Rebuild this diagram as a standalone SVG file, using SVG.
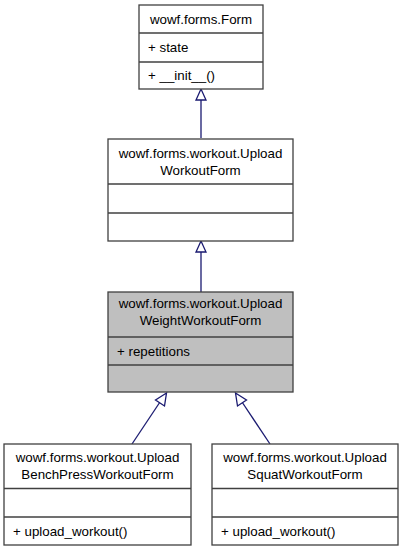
<svg xmlns="http://www.w3.org/2000/svg" width="403" height="552" viewBox="0 0 403 552">
<style>
.box{fill:#ffffff;stroke:#404040;stroke-width:1.3}
.sel{fill:#bfbfbf;stroke:#404040;stroke-width:1.3}
.div{stroke:#404040;stroke-width:1.3}
text{font-family:"Liberation Sans",Arial,sans-serif;font-size:13.33px;fill:#000}
.c{text-anchor:middle}
.edge{stroke:#191970;stroke-width:1.3;fill:none}
.head{stroke:#191970;stroke-width:1.3;fill:#ffffff}
</style>
<rect width="403" height="552" fill="#ffffff"/>
<g id="connectors">
  <path class="edge" d="M201,138 L201,100"/>
  <polygon class="head" points="201,89 196,100 206,100"/>
  <path class="edge" d="M201,292 L201,252"/>
  <polygon class="head" points="201,241 196,252 206,252"/>
  <path class="edge" d="M132,444 L160,402"/>
  <polygon class="head" points="166.5,393 155.5,400 164.5,406"/>
  <path class="edge" d="M270,444 L242,402"/>
  <polygon class="head" points="235.5,393 237.5,406 246.5,400"/>
</g>
<g id="node_form">
  <rect class="box" x="139" y="5" width="124" height="84"/>
  <line class="div" x1="139" y1="33" x2="263" y2="33"/>
  <line class="div" x1="139" y1="62" x2="263" y2="62"/>
  <text class="c" x="201" y="23.5">wowf.forms.Form</text>
  <text x="148" y="51.5">+ state</text>
  <text x="148" y="79.5">+ __init__()</text>
</g>
<g id="node_upload">
  <rect class="box" x="108" y="139" width="185" height="102"/>
  <line class="div" x1="108" y1="184" x2="293" y2="184"/>
  <line class="div" x1="108" y1="213" x2="293" y2="213"/>
  <text class="c" x="200.5" y="157.5">wowf.forms.workout.Upload</text>
  <text class="c" x="200.5" y="174.5">WorkoutForm</text>
</g>
<g id="node_weight">
  <rect class="sel" x="108" y="292" width="185" height="100"/>
  <line class="div" x1="108" y1="337" x2="293" y2="337"/>
  <line class="div" x1="108" y1="365" x2="293" y2="365"/>
  <text class="c" x="200.5" y="308">wowf.forms.workout.Upload</text>
  <text class="c" x="200.5" y="325">WeightWorkoutForm</text>
  <text x="117" y="355.5">+ repetitions</text>
</g>
<g id="node_bench">
  <rect class="box" x="4" y="444" width="187" height="101"/>
  <line class="div" x1="4" y1="488.5" x2="191" y2="488.5"/>
  <line class="div" x1="4" y1="517" x2="191" y2="517"/>
  <text class="c" x="97.5" y="462">wowf.forms.workout.Upload</text>
  <text class="c" x="97.5" y="479">BenchPressWorkoutForm</text>
  <text x="13" y="535.5">+ upload_workout()</text>
</g>
<g id="node_squat">
  <rect class="box" x="212" y="444" width="186" height="101"/>
  <line class="div" x1="212" y1="488.5" x2="398" y2="488.5"/>
  <line class="div" x1="212" y1="517" x2="398" y2="517"/>
  <text class="c" x="305" y="462">wowf.forms.workout.Upload</text>
  <text class="c" x="305" y="479">SquatWorkoutForm</text>
  <text x="221" y="535.5">+ upload_workout()</text>
</g>
</svg>
